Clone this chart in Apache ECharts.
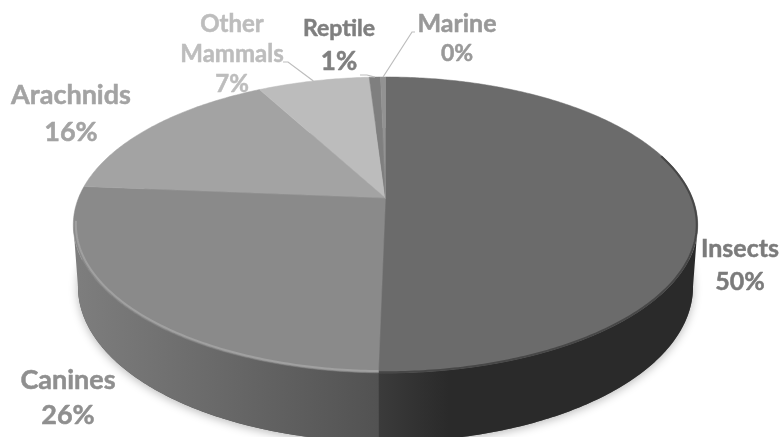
<!DOCTYPE html>
<html><head><meta charset="utf-8">
<style>html,body{margin:0;padding:0;background:#fff}#c{width:782px;height:437px;filter:blur(0.5px)}</style>
<script src="https://cdn.jsdelivr.net/npm/echarts@6/dist/echarts.min.js"></script>
</head><body><div id="c"></div>
<script>
// Data
const categories = ['Insects','Canines','Arachnids','Other\nMammals','Reptile','Marine'];
const shares = [50.3, 26.0, 15.8, 6.9, 0.7, 0.3];
// Styling
const topColors = ['#6b6b6b','#8a8a8a','#a3a3a3','#bcbcbc','#7f7f7f','#929292'];
const rimColors = ['#474747','#a0a0a0',null,null,null,null];
const wallColors = [['#3b3b3b','#2a2a2a'],['#7e7e7e','#525252'],null,null,null,null];
const labelColors = ['#7b7b7b','#8f8f8f','#a3a3a3','#bdbdbd','#7f7f7f','#999999'];
const labelLayout = [
  {x:740,y:249,lh:33,f:25},{x:68,y:380,lh:35,f:27},{x:71,y:95,lh:37,f:27},
  {x:232,y:24,lh:30,f:24},{x:339,y:29,lh:33,f:23,pf:26},{x:457,y:24,lh:30,f:25,pf:23}];
const leaders = [null,null,null,[[283,62],[288,62]],[[360,75],[367,75]],[[415,32],[412,32]]];

// Projection of the tilted disc
const CX=385.5, CY=198, A=307, B=107, K=-0.182, DEPTH=60, DEPTH_FRONT=9, BACK=0.985;
function disc(theta,r,base){
  const u=Math.sin(theta)*r, v=-Math.cos(theta)*r, w=1+K*v;
  const x=A*u/w, y=(B*v+CY)/w;
  if(!base) return [CX+x,y];
  return [CX+BACK*x, y+DEPTH+DEPTH_FRONT*v];
}
function arc(a0,a1,r,base){
  const n=Math.max(2,Math.ceil(Math.abs(a1-a0)/0.012)), pts=[];
  for(let i=0;i<=n;i++) pts.push(disc(a0+(a1-a0)*i/n,r,base));
  return pts;
}
let acc=0;
const sliceData = shares.map((s,i)=>{const d=[acc,acc+s,i];acc+=s;return d;});
const toAngle = p=>p/100*Math.PI*2;
const WALL0=toAngle(27.9), WALL1=toAngle(72.1);

function renderShadow(params,api){
  if(api.value(2)!==0) return null;
  return {type:'polygon',shape:{points:arc(0,Math.PI*2,1,true)},
    style:{fill:'#555',shadowBlur:10,shadowColor:'rgba(0,0,0,0.28)',shadowOffsetY:2}};
}
function renderWall(params,api){
  const i=api.value(2); if(!wallColors[i]) return null;
  const a0=Math.max(toAngle(api.value(0)),WALL0), a1=Math.min(toAngle(api.value(1)),WALL1);
  if(a1<=a0) return null;
  const pts=arc(a0,a1,1,false).concat(arc(a1,a0,1,true));
  const xs=pts.map(p=>p[0]), x0=Math.min(...xs), x1=Math.max(...xs);
  const cols=wallColors[i];
  const to=i===0?x0+70:x1;
  return {type:'polygon',shape:{points:pts},
    style:{fill:{type:'linear',x:x0,y:0,x2:to,y2:0,global:true,
      colorStops:[{offset:0,color:cols[0]},{offset:1,color:cols[1]}]}}};
}
function renderTop(params,api){
  const i=api.value(2);
  const a0=toAngle(api.value(0)), a1=toAngle(api.value(1));
  const pts=[disc(0,0,false)].concat(arc(a0,a1,1,false));
  const kids=[{type:'polygon',shape:{points:pts},style:{fill:topColors[i],stroke:topColors[i],lineWidth:0.5}}];
  if(rimColors[i]){
    const b0=i===0?toAngle(20):a0, b1=i===1?toAngle(72.5):a1;
    kids.push({type:'polyline',shape:{points:arc(b0,b1,i===0?0.997:0.992,false)},
      style:{fill:'none',stroke:rimColors[i],lineWidth:2}});
  }
  return {type:'group',children:kids};
}
function renderLabel(params,api){
  const i=api.value(2), L=labelLayout[i], name=categories[i];
  const pct=Math.round(shares[i])+'%', kids=[], col=labelColors[i];
  const lines=name.split('\n').concat([pct]);
  lines.forEach((t,k)=>{
    const isPct=k===lines.length-1;
    kids.push({type:'text',style:{text:t,x:L.x,y:L.y+k*L.lh,align:'center',verticalAlign:'middle',
      fill:col,fontFamily:'Lato',fontWeight:'bold',fontSize:isPct&&L.pf?L.pf:L.f,
      stroke:col,lineWidth:0.5}});
  });
  if(leaders[i]){
    const mid=toAngle((api.value(0)+api.value(1))/2);
    kids.push({type:'polyline',shape:{points:leaders[i].concat([disc(mid,1.0,false)])},
      style:{fill:'none',stroke:'#bdbdbd',lineWidth:1.2}});
  }
  return {type:'group',children:kids};
}
const chart=echarts.init(document.getElementById('c'),null,{renderer:'canvas',width:782,height:437});
const mk=(name,fn,z)=>({type:'custom',name,coordinateSystem:'none',renderItem:fn,data:sliceData,z,clip:false,silent:true});
chart.setOption({animation:false,backgroundColor:'#fff',tooltip:{show:false},
  series:[mk('shadow',renderShadow,1),mk('wall',renderWall,2),mk('top',renderTop,3),mk('labels',renderLabel,4)]});
</script></body></html>
